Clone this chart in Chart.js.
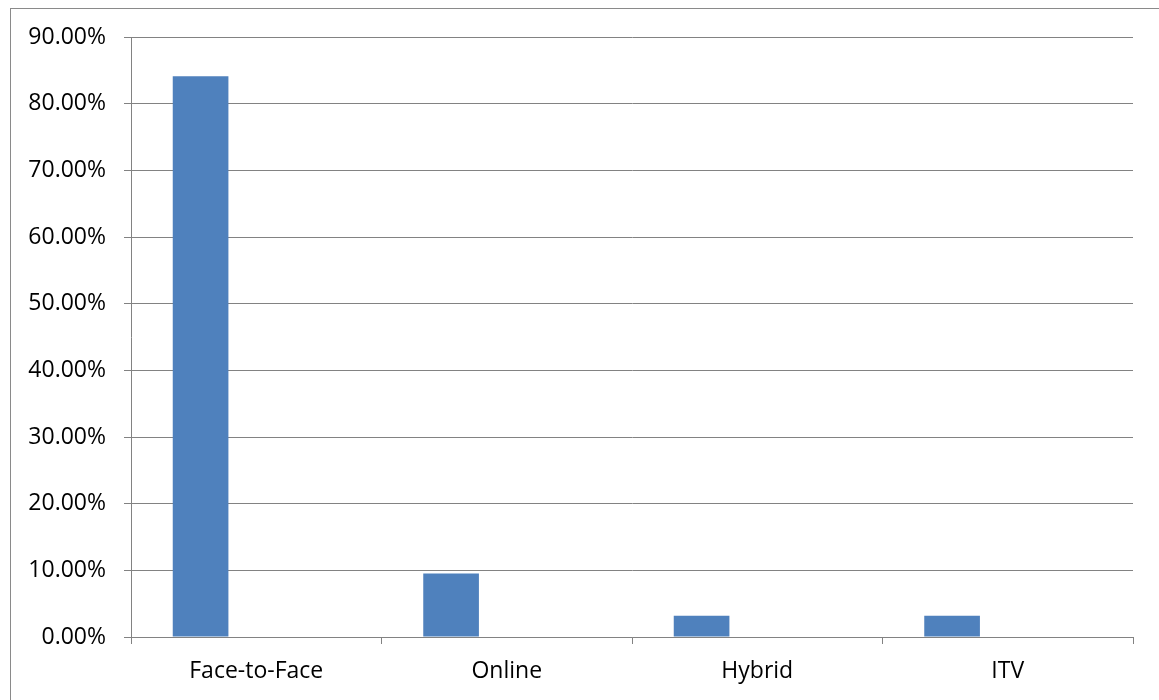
<!DOCTYPE html>
<html>
<head>
<meta charset="utf-8">
<script src="https://cdn.jsdelivr.net/npm/chart.js@4.4.1/dist/chart.umd.min.js"></script>
<style>
  html, body { margin: 0; padding: 0; background: #fff; }
  #wrap { width: 1159px; height: 700px; position: relative; }
</style>
</head>
<body>
<div id="wrap"><canvas id="chart" width="1159" height="700"></canvas></div>
<script>
// delivery mode shares (fraction of respondents, in %)
var categories = ["Face-to-Face", "Online", "Hybrid", "ITV"];
var shares = [84.13, 9.52, 3.17, 3.17];
var emptySeries = [null, null, null, null];
var yTicks = [0, 10, 20, 30, 40, 50, 60, 70, 80, 90];

var gridGray = "#828282";
var fontFace = "'Open Sans', sans-serif";

// thin frame round the whole picture, only left and top edges show
var framePlugin = {
  id: "frame",
  beforeDraw: function(chart) {
    var ctx = chart.ctx;
    ctx.save();
    ctx.fillStyle = "#fff";
    ctx.fillRect(0, 0, chart.width, chart.height);
    ctx.strokeStyle = "#8a8a8a";
    ctx.lineWidth = 1;
    ctx.strokeRect(10.5, 8.5, 2000, 2000);
    ctx.restore();
  }
};

new Chart(document.getElementById("chart"), {
  type: "bar",
  data: {
    labels: categories,
    datasets: [
      { data: shares, backgroundColor: "#4f81bd" },
      { data: emptySeries, backgroundColor: "#c0504d" },
      { data: emptySeries, backgroundColor: "#9bbb59" }
    ]
  },
  options: {
    responsive: false,
    animation: false,
    devicePixelRatio: 1,
    categoryPercentage: 3 / 4.5,
    barPercentage: 1,
    layout: { padding: { left: 0, top: 37, right: 26, bottom: 0 } },
    plugins: {
      legend: { display: false },
      tooltip: { enabled: false },
      title: { display: false }
    },
    scales: {
      x: {
        grid: {
          offset: true,
          drawOnChartArea: false,
          drawTicks: true,
          tickLength: 7,
          color: gridGray
        },
        border: { color: gridGray, width: 1 },
        ticks: {
          color: "#000",
          padding: 14,
          font: { family: fontFace, size: 23 }
        },
        afterFit: function(scale) { scale.height = 63; }
      },
      y: {
        min: 0,
        max: 90,
        afterBuildTicks: function(scale) {
          scale.ticks = yTicks.map(function(v) { return { value: v }; });
        },
        grid: {
          color: gridGray,
          tickLength: 7,
          drawTicks: true
        },
        border: { color: gridGray, width: 1 },
        ticks: {
          color: "#000",
          padding: 18,
          font: { family: fontFace, size: 23 },
          callback: function(v) { return v.toFixed(2) + "%"; }
        },
        afterFit: function(scale) { scale.width = 131; }
      }
    }
  },
  plugins: [framePlugin]
});
</script>
</body>
</html>
